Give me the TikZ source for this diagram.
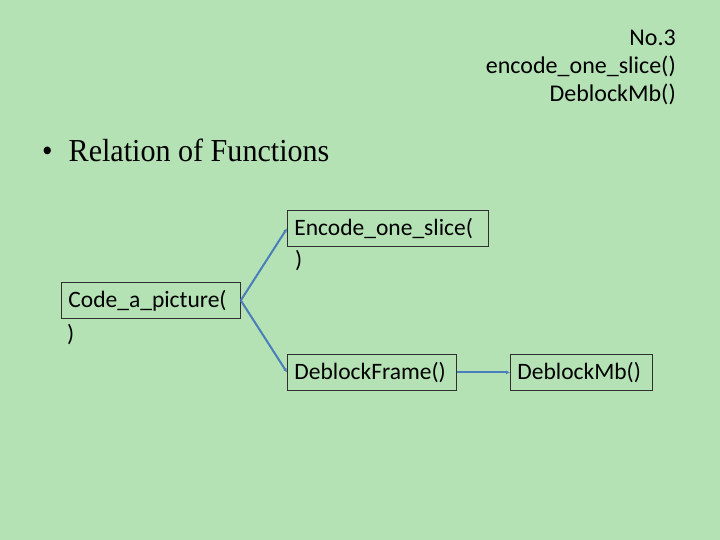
\documentclass[tikz,border=0pt]{standalone}
\usepackage{fontspec}
\setmainfont{Carlito}
\newfontfamily\slidefont[FakeStretch=0.94]{Liberation Serif}
\usepackage{xcolor}
\usetikzlibrary{positioning, arrows.meta}

\definecolor{slidebg}{HTML}{B4E2B4}
\definecolor{linkblue}{HTML}{4A7EBB}
\definecolor{boxline}{HTML}{303030}

\begin{document}
\begin{tikzpicture}[x=1pt, y=-1pt,
  fbox/.style={draw=boxline, line width=0.8pt, anchor=north west,
               minimum height=36pt, inner xsep=7pt, inner ysep=0pt, align=left,
               font=\fontsize{23.5}{28}\selectfont, text=black},
  tail/.style={inner sep=0pt, font=\fontsize{23.5}{28}\selectfont, anchor=north west},
  arr/.style={-{Latex[length=4pt, width=4pt]}, linkblue, line width=2pt}
]
\fill[slidebg] (0,0) rectangle (720,540);
\useasboundingbox (0,0) rectangle (720,540);

% heading
\node[anchor=north east, align=right, inner sep=0pt,
      font=\fontsize{24}{28}\selectfont] (head) at (676,30)
  {No.3\\encode\_one\_slice()\\DeblockMb()};
\node[anchor=base west, inner sep=0pt, font=\slidefont\fontsize{32}{36}\selectfont]
  (topic) at (42,162) {\textbullet\hspace{16pt}Relation of Functions};

% call tree
\node[fbox, text width=165pt] (code) at (61,282) {Code\_a\_picture(};
\node[tail, below right=5pt and 6pt of code.south west] (codeend) {)};
\node[fbox, text width=187pt] (enc) at (287,210) {Encode\_one\_slice(};
\node[tail, below right=3pt and 8pt of enc.south west] (encend) {)};
\node[fbox, text width=155pt] (dfr) at (287,354) {DeblockFrame()};
\node[fbox, text width=128pt] (dmb) at (510,354) {DeblockMb()};

\draw[arr] (code.east) -- (enc.west);
\draw[arr] (code.east) -- (dfr.west);
\draw[arr] (dfr) -- (dmb);
\end{tikzpicture}
\end{document}
